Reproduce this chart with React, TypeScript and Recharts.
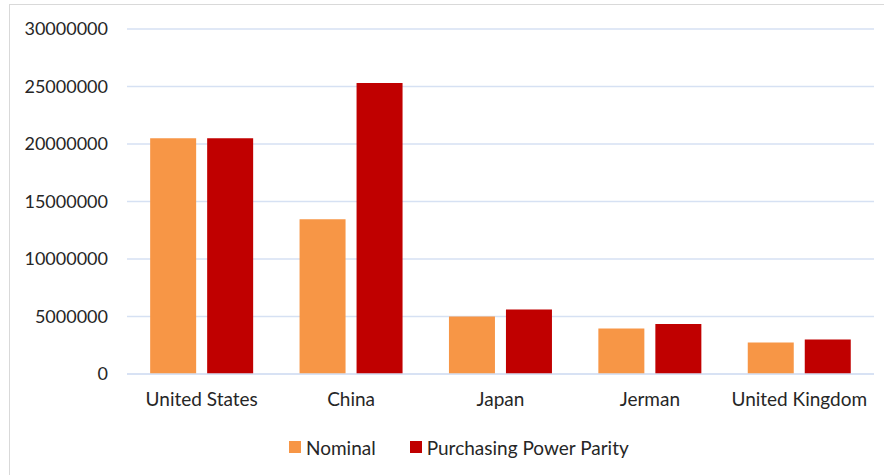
import React from "react";
import {
  BarChart,
  Bar,
  XAxis,
  YAxis,
  CartesianGrid,
  Legend,
} from "recharts";

const countries = ["United States", "China", "Japan", "Jerman", "United Kingdom"];
const nominal = [20500000, 13450000, 5000000, 3950000, 2750000];
const ppp = [20500000, 25300000, 5600000, 4350000, 3000000];
const yTicks = [0, 5000000, 10000000, 15000000, 20000000, 25000000, 30000000];

const SERIES = [
  { key: "nominal", name: "Nominal", color: "#F79646" },
  { key: "ppp", name: "Purchasing Power Parity", color: "#C00000" },
];

const data = countries.map((country, i) => ({
  country,
  nominal: nominal[i],
  ppp: ppp[i],
}));

const FONT = "Lato, 'Open Sans', sans-serif";
const TEXT = "#262626";
const GRID = "#D6E1F3";

function LegendContent() {
  return (
    <div
      style={{
        display: "flex",
        alignItems: "center",
        height: 20,
        paddingLeft: 289,
        fontFamily: FONT,
        fontSize: 19,
        color: TEXT,
      }}
    >
      {SERIES.map((s, i) => (
        <div
          key={s.key}
          style={{ display: "flex", alignItems: "center", marginRight: i === 0 ? 34 : 0 }}
        >
          <span
            style={{
              display: "inline-block",
              width: 12,
              height: 12,
              background: s.color,
              marginRight: 5,
            }}
          />
          <span>{s.name}</span>
        </div>
      ))}
    </div>
  );
}

export default function App() {
  return (
    <div
      style={{
        position: "absolute",
        left: 0,
        top: 0,
        width: 884,
        height: 475,
        overflow: "hidden",
        background: "#fff",
      }}
    >
      <div
        style={{
          position: "absolute",
          left: 9,
          top: 4,
          width: 900,
          height: 500,
          border: "1px solid #D9D9D9",
        }}
      />
      <div style={{ position: "absolute", left: 0, top: 0 }}>
        <BarChart
          width={884}
          height={475}
          data={data}
          margin={{ top: 29, right: 10, left: 0, bottom: 51 }}
          barGap={11}
          barCategoryGap="15.5%"
        >
          <CartesianGrid vertical={false} stroke={GRID} strokeWidth={1.3} />
          <XAxis
            dataKey="country"
            height={30}
            axisLine={{ stroke: GRID, strokeWidth: 1.3 }}
            tickLine={false}
            tickSize={0}
            tickMargin={19}
            tick={{ fill: TEXT, fontSize: 19, fontFamily: FONT }}
            interval={0}
          />
          <YAxis
            width={127}
            domain={[0, 30000000]}
            ticks={yTicks}
            axisLine={false}
            tickLine={false}
            tickSize={0}
            tickMargin={19}
            tick={{ fill: TEXT, fontSize: 18, fontFamily: FONT }}
          />
          <Legend
            content={<LegendContent />}
            wrapperStyle={{ top: 437, left: 0, width: 884 }}
          />
          {SERIES.map((s) => (
            <Bar
              key={s.key}
              dataKey={s.key}
              name={s.name}
              fill={s.color}
              isAnimationActive={false}
            />
          ))}
        </BarChart>
      </div>
    </div>
  );
}
